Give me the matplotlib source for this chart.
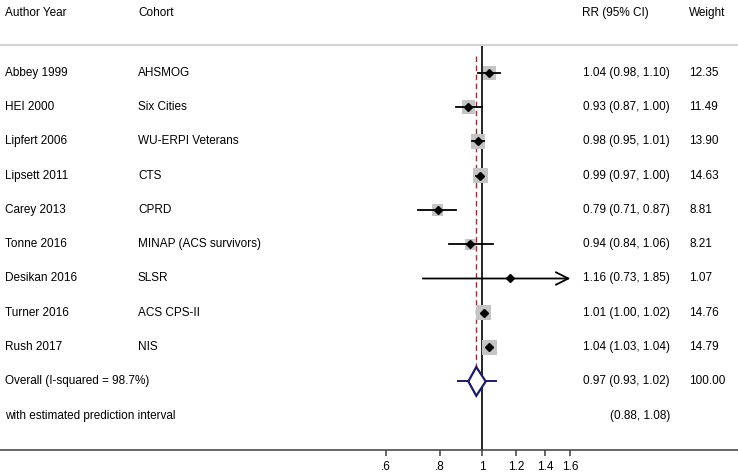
import numpy as np
import matplotlib
matplotlib.use("Agg")
import matplotlib.pyplot as plt
import matplotlib.transforms as mtransforms

plt.rcParams['font.family'] = ['Liberation Sans', 'DejaVu Sans']

# study rows
authors = ["Abbey 1999", "HEI 2000", "Lipfert 2006", "Lipsett 2011", "Carey 2013",
           "Tonne 2016", "Desikan 2016", "Turner 2016", "Rush 2017"]
cohorts = ["AHSMOG", "Six Cities", "WU-ERPI Veterans", "CTS", "CPRD",
           "MINAP (ACS survivors)", "SLSR", "ACS CPS-II", "NIS"]
rr = [1.04, 0.93, 0.98, 0.99, 0.79, 0.94, 1.16, 1.01, 1.04]
lo = [0.98, 0.87, 0.95, 0.97, 0.71, 0.84, 0.73, 1.00, 1.03]
hi = [1.10, 1.00, 1.01, 1.00, 0.87, 1.06, 1.85, 1.02, 1.04]
weights = [12.35, 11.49, 13.90, 14.63, 8.81, 8.21, 1.07, 14.76, 14.79]

# pooled estimate
overall_label = "Overall (I-squared = 98.7%)"
overall = (0.97, 0.93, 1.02)
overall_weight = "100.00"
pred_label = "with estimated prediction interval"
pred = (0.88, 1.08)

xticks = [0.6, 0.8, 1.0, 1.2, 1.4, 1.6]
xticklabels = [".6", ".8", "1", "1.2", "1.4", "1.6"]
xmax_plot = 1.6

W, H = 738, 473
fig = plt.figure(figsize=(W / 100, H / 100), dpi=100)
ax = fig.add_axes([0, 23 / H, 1, (450 - 45.5) / H])
ax.set_xscale('log')
ax.set_xlim(np.exp(-482 / 188), np.exp((W - 482) / 188))
ax.set_ylim(11.0, -0.793)

fs = 8.5

for s in ['left', 'right']:
    ax.spines[s].set_visible(False)
ax.spines['top'].set_color('#d4d4d4')
ax.spines['top'].set_linewidth(1.5)
ax.spines['bottom'].set_color('#3c3c3c')
ax.spines['bottom'].set_linewidth(1.1)
ax.set_yticks([])
ax.set_xticks(xticks)
ax.set_xticklabels(xticklabels)
ax.xaxis.set_minor_locator(matplotlib.ticker.NullLocator())
ax.tick_params(axis='x', length=4.3, width=1.1, color='#3c3c3c', pad=3.5, labelsize=fs)

n = len(authors)
ys = np.arange(n)
oy = n
py = n + 1

# reference line at 1 and dashed line at pooled estimate
ax.axvline(1.0, color='black', lw=1.2, zorder=1)
ax.plot([overall[0], overall[0]], [-0.5, oy + 0.42], ls=(0, (4, 2.5)),
        color='#8e3535', lw=1.0, zorder=2)

# weight boxes
side_px = 3.9 * np.sqrt(weights)
ax.scatter(rr, ys, marker='s', s=(side_px * 0.72) ** 2, color='#c4c4c4',
           edgecolors='none', zorder=3)

# CIs
for y, l, h in zip(ys, lo, hi):
    if h > xmax_plot:
        ax.annotate('', xy=(xmax_plot, y), xytext=(l, y),
                    arrowprops=dict(arrowstyle='->,head_length=0.9,head_width=0.45',
                                    color='black', lw=1.3, shrinkA=0, shrinkB=0),
                    zorder=4)
    else:
        ax.plot([l, h], [y, y], color='black', lw=1.3, zorder=4)
ax.plot(rr, ys, 'D', color='black', ms=4.5, zorder=5)

# pooled diamond + prediction interval
navy = '#1c1c6b'
est, olo, ohi = overall
dh = 0.42
ax.plot([pred[0], olo], [oy, oy], color=navy, lw=1.4, zorder=4)
ax.plot([ohi, pred[1]], [oy, oy], color=navy, lw=1.4, zorder=4)
ax.fill([olo, est, ohi, est, olo], [oy, oy - dh, oy, oy + dh, oy],
        facecolor='white', edgecolor=navy, lw=1.6, zorder=3)

# text columns
tr = mtransforms.blended_transform_factory(fig.transFigure, ax.transData)
x_auth, x_coh, x_rr, x_rrh, x_w = 5 / W, 138 / W, 670 / W, 582 / W, 689 / W
hy = (13 - 72.7) / 34.3
for x, t in [(x_auth, "Author Year"), (x_coh, "Cohort"), (x_rrh, "RR (95% CI)"), (x_w, "Weight")]:
    ax.text(x, hy, t, transform=tr, fontsize=fs, va='center', ha='left', clip_on=False)

for y, a, c, r, l, h, w in zip(ys, authors, cohorts, rr, lo, hi, weights):
    ax.text(x_auth, y, a, transform=tr, fontsize=fs, va='center')
    ax.text(x_coh, y, c, transform=tr, fontsize=fs, va='center')
    ax.text(x_rr, y, f"{r:.2f} ({l:.2f}, {h:.2f})", transform=tr, fontsize=fs,
            va='center', ha='right')
    ax.text(x_w, y, f"{w:.2f}", transform=tr, fontsize=fs, va='center')

ax.text(x_auth, oy, overall_label, transform=tr, fontsize=fs, va='center')
ax.text(x_rr, oy, f"{est:.2f} ({olo:.2f}, {ohi:.2f})", transform=tr, fontsize=fs,
        va='center', ha='right')
ax.text(x_w, oy, overall_weight, transform=tr, fontsize=fs, va='center')
ax.text(x_auth, py, pred_label, transform=tr, fontsize=fs, va='center')
ax.text(x_rr, py, f"({pred[0]:.2f}, {pred[1]:.2f})", transform=tr, fontsize=fs,
        va='center', ha='right')

fig.savefig('out.png', dpi=100)
